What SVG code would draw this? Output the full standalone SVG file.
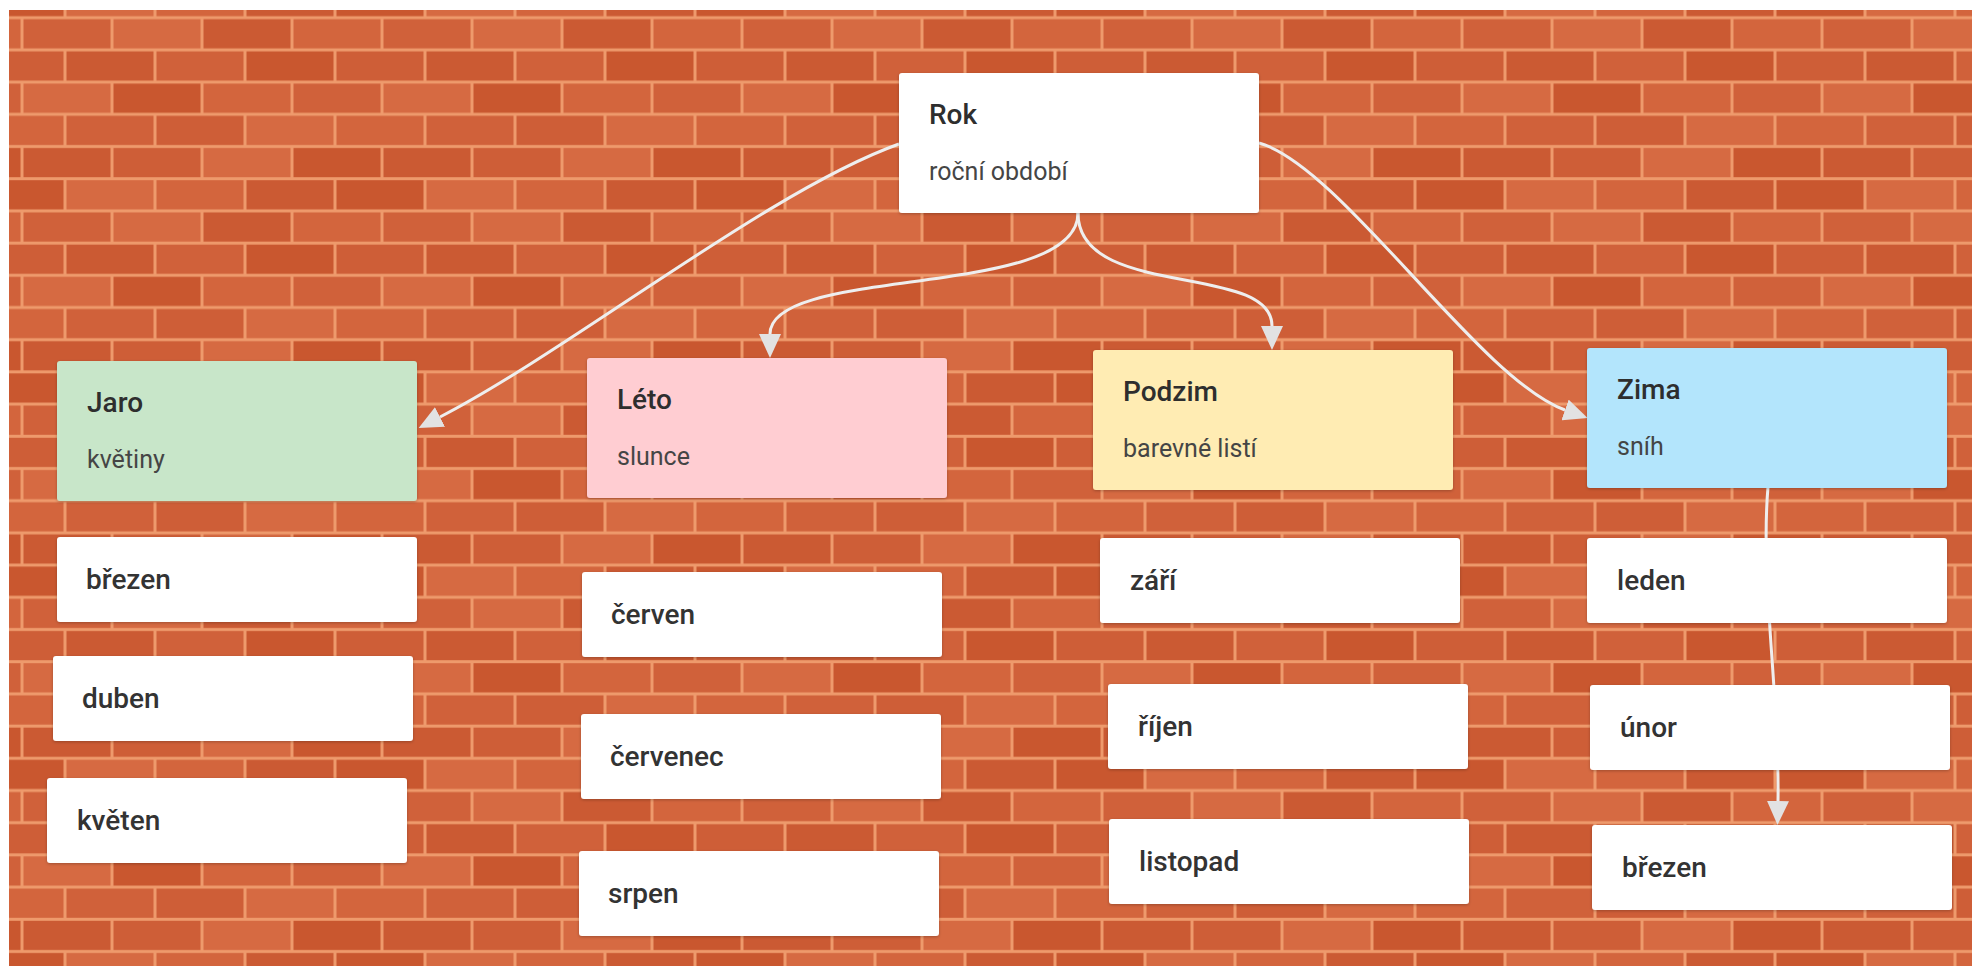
<svg xmlns="http://www.w3.org/2000/svg" width="1972" height="966" viewBox="0 0 1972 966">
<style>
.t{font-family:Roboto,"Liberation Sans",sans-serif;font-size:28px;font-weight:500;fill:#2e2e2e}
.s{font-family:Roboto,"Liberation Sans",sans-serif;font-size:25px;font-weight:400;fill:#454545}
.m{font-family:Roboto,"Liberation Sans",sans-serif;font-size:28px;font-weight:500;fill:#333}
.card{filter:url(#sh)}
.w{fill:#ffffff}
.conn{fill:none;stroke:#eeeeee;stroke-width:3;marker-end:url(#arr)}
.a{fill:#d0613a}.b{fill:#cb5a33}.c{fill:#d66a42}.d{fill:#ce5e37}.e{fill:#c9572f}.f{fill:#d3653d}
</style>
<defs>
<filter id="sh" x="-5%" y="-10%" width="110%" height="125%">
<feDropShadow dx="0" dy="1" stdDeviation="1.5" flood-color="#000" flood-opacity="0.25"/>
</filter>
<marker id="arr" markerUnits="userSpaceOnUse" markerWidth="24" markerHeight="22" refX="0" refY="11" orient="auto" viewBox="0 0 24 22">
<path d="M0,0 L24,11 L0,22 z" fill="#e2e2e2"/>
</marker>
<pattern id="bricks" patternUnits="userSpaceOnUse" x="22" y="17.7" width="360" height="193.2">
<rect x="0" y="0" width="360" height="193.2" fill="#ee9a6c"/>
<rect class="a" x="1.5" y="1.5" width="87" height="29.2"/><rect class="c" x="91.5" y="1.5" width="87" height="29.2"/><rect class="b" x="181.5" y="1.5" width="87" height="29.2"/><rect class="f" x="271.5" y="1.5" width="87" height="29.2"/>
<rect class="d" x="-45.5" y="33.7" width="87" height="29.2"/><rect class="b" x="44.5" y="33.7" width="87" height="29.2"/><rect class="a" x="134.5" y="33.7" width="87" height="29.2"/><rect class="e" x="224.5" y="33.7" width="87" height="29.2"/><rect class="d" x="314.5" y="33.7" width="87" height="29.2"/>
<rect class="c" x="1.5" y="65.9" width="87" height="29.2"/><rect class="e" x="91.5" y="65.9" width="87" height="29.2"/><rect class="f" x="181.5" y="65.9" width="87" height="29.2"/><rect class="a" x="271.5" y="65.9" width="87" height="29.2"/>
<rect class="f" x="-45.5" y="98.1" width="87" height="29.2"/><rect class="a" x="44.5" y="98.1" width="87" height="29.2"/><rect class="d" x="134.5" y="98.1" width="87" height="29.2"/><rect class="c" x="224.5" y="98.1" width="87" height="29.2"/><rect class="f" x="314.5" y="98.1" width="87" height="29.2"/>
<rect class="b" x="1.5" y="130.3" width="87" height="29.2"/><rect class="d" x="91.5" y="130.3" width="87" height="29.2"/><rect class="c" x="181.5" y="130.3" width="87" height="29.2"/><rect class="e" x="271.5" y="130.3" width="87" height="29.2"/>
<rect class="e" x="-45.5" y="162.5" width="87" height="29.2"/><rect class="c" x="44.5" y="162.5" width="87" height="29.2"/><rect class="f" x="134.5" y="162.5" width="87" height="29.2"/><rect class="b" x="224.5" y="162.5" width="87" height="29.2"/><rect class="e" x="314.5" y="162.5" width="87" height="29.2"/>
</pattern>
</defs>
<rect x="0" y="0" width="1972" height="966" fill="#ffffff"/>
<rect x="9" y="10" width="1963" height="956" fill="url(#bricks)"/>

<g id="connectors">
<path class="conn" d="M 899 144 C 770 190, 570 350, 440 417"/>
<path class="conn" d="M 1078 213 C 1078 300, 770 265, 770 334"/>
<path class="conn" d="M 1078 213 C 1078 300, 1272 262, 1272 326"/>
<path class="conn" d="M 1259 143 C 1340 165, 1480 380, 1565 410"/>
<path class="conn" d="M 1768 487 C 1760 580, 1780 700, 1778 801"/>
</g>

<g id="rok"><rect class="card w" x="899" y="73" width="360" height="140" rx="3"/><text class="t" x="929" y="124">Rok</text><text class="s" x="929" y="180">roční období</text></g>

<g id="jaro"><rect class="card" x="57" y="361" width="360" height="140" rx="3" fill="#c8e6c9"/><text class="t" x="87" y="412">Jaro</text><text class="s" x="87" y="468">květiny</text></g>
<g id="jaro-brezen"><rect class="card w" x="57" y="537" width="360" height="85" rx="3"/><text class="m" x="86" y="589">březen</text></g>
<g id="jaro-duben"><rect class="card w" x="53" y="656" width="360" height="85" rx="3"/><text class="m" x="82" y="708">duben</text></g>
<g id="jaro-kveten"><rect class="card w" x="47" y="778" width="360" height="85" rx="3"/><text class="m" x="77" y="830">květen</text></g>

<g id="leto"><rect class="card" x="587" y="358" width="360" height="140" rx="3" fill="#ffcdd2"/><text class="t" x="617" y="409">Léto</text><text class="s" x="617" y="465">slunce</text></g>
<g id="leto-cerven"><rect class="card w" x="582" y="572" width="360" height="85" rx="3"/><text class="m" x="611" y="624">červen</text></g>
<g id="leto-cervenec"><rect class="card w" x="581" y="714" width="360" height="85" rx="3"/><text class="m" x="610" y="766">červenec</text></g>
<g id="leto-srpen"><rect class="card w" x="579" y="851" width="360" height="85" rx="3"/><text class="m" x="608" y="903">srpen</text></g>

<g id="podzim"><rect class="card" x="1093" y="350" width="360" height="140" rx="3" fill="#ffecb3"/><text class="t" x="1123" y="401">Podzim</text><text class="s" x="1123" y="457">barevné listí</text></g>
<g id="podzim-zari"><rect class="card w" x="1100" y="538" width="360" height="85" rx="3"/><text class="m" x="1130" y="590">září</text></g>
<g id="podzim-rijen"><rect class="card w" x="1108" y="684" width="360" height="85" rx="3"/><text class="m" x="1138" y="736">říjen</text></g>
<g id="podzim-listopad"><rect class="card w" x="1109" y="819" width="360" height="85" rx="3"/><text class="m" x="1139" y="871">listopad</text></g>

<g id="zima"><rect class="card" x="1587" y="348" width="360" height="140" rx="3" fill="#b3e5fc"/><text class="t" x="1617" y="399">Zima</text><text class="s" x="1617" y="455">sníh</text></g>
<g id="zima-leden"><rect class="card w" x="1587" y="538" width="360" height="85" rx="3"/><text class="m" x="1617" y="590">leden</text></g>
<g id="zima-unor"><rect class="card w" x="1590" y="685" width="360" height="85" rx="3"/><text class="m" x="1620" y="737">únor</text></g>
<g id="zima-brezen"><rect class="card w" x="1592" y="825" width="360" height="85" rx="3"/><text class="m" x="1622" y="877">březen</text></g>
</svg>
